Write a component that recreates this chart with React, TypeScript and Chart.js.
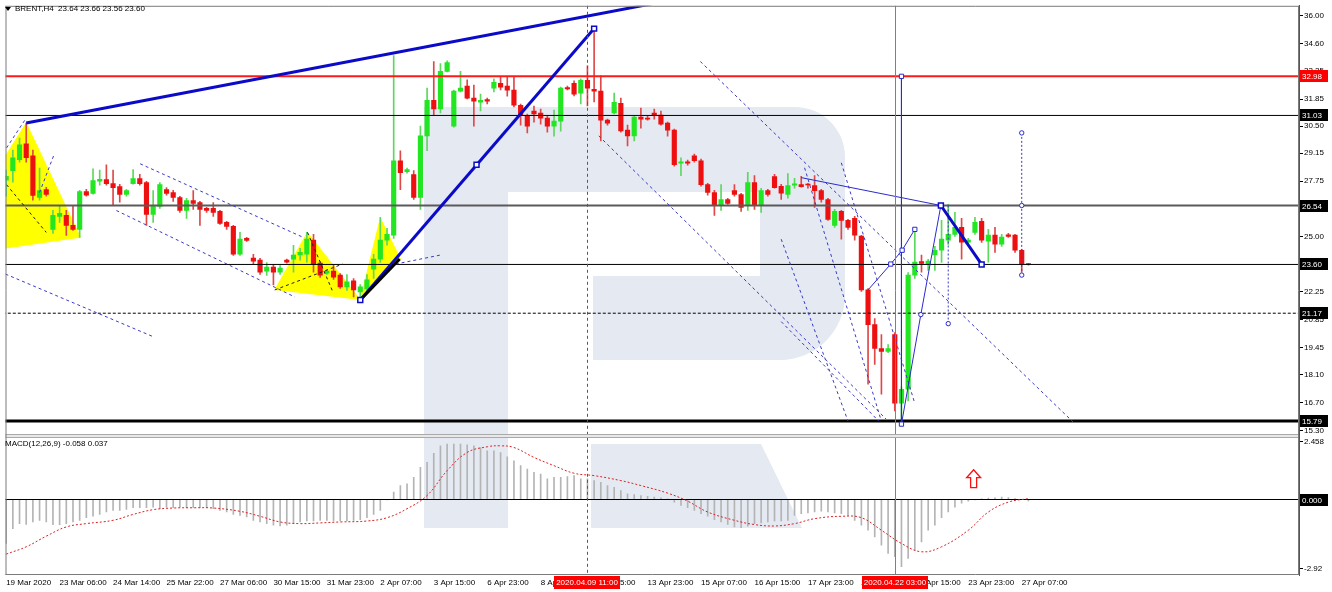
import React, { useEffect, useRef } from 'react';
import { Chart, registerables } from 'chart.js';

Chart.register(...registerables);

// ---------------- DATA ----------------
const barOpen = [
  27.80, 28.28, 28.82, 29.61, 29.02, 26.94, 27.33, 25.35, 26.00, 26.05,
  25.55, 25.35, 27.23, 27.14, 27.75, 27.83, 27.63, 27.48, 27.09, 27.63,
  27.88, 27.68, 26.09, 26.49, 27.33, 27.19, 26.94, 26.29, 26.79, 26.69,
  26.40, 26.40, 26.25, 25.70, 25.50, 24.11, 24.90, 23.92, 23.82, 23.27,
  23.47, 23.22, 23.82, 23.87, 24.07, 24.11, 24.81, 23.67, 23.17, 23.27,
  23.07, 22.48, 22.78, 22.23, 22.38, 23.37, 23.87, 24.81, 25.06, 28.77,
  28.23, 28.08, 26.94, 30.01, 31.79, 31.35, 33.23, 30.50, 32.24, 32.49,
  31.89, 31.69, 31.82, 32.39, 32.63, 32.49, 32.29, 31.54, 31.00, 31.25,
  31.15, 30.90, 30.50, 30.75, 32.42, 32.63, 32.14, 32.78, 32.33, 32.24,
  30.80, 31.15, 31.64, 30.30, 30.01, 30.95, 30.90, 31.15, 31.05, 30.65,
  30.30, 28.65, 28.72, 29.02, 28.77, 27.58, 27.19, 26.54, 26.84, 27.28,
  27.09, 26.54, 27.68, 26.54, 27.28, 27.98, 27.50, 27.09, 27.55, 27.58,
  27.58, 27.53, 27.28, 26.84, 25.55, 26.25, 25.80, 25.90, 25.01, 22.33,
  20.60, 19.41, 19.26, 20.10, 16.69, 17.38, 23.07, 23.75, 23.62, 24.07,
  24.31, 24.81, 25.10, 25.45, 24.71, 25.20, 25.75, 24.76, 25.06, 24.61,
  25.08, 25.06, 24.31, 23.64
];
const barHigh = [
  28.30, 29.30, 29.90, 30.65, 29.30, 28.40, 27.45, 26.30, 26.50, 26.30,
  26.54, 27.30, 27.35, 28.37, 28.30, 28.57, 28.30, 27.60, 27.35, 28.33,
  28.10, 27.75, 27.28, 27.68, 27.43, 27.30, 27.00, 26.90, 27.28, 26.75,
  26.45, 26.69, 26.30, 25.75, 25.55, 25.20, 24.95, 24.11, 23.90, 23.70,
  23.57, 23.55, 23.87, 24.56, 24.40, 25.20, 25.10, 23.75, 23.35, 23.57,
  23.15, 23.10, 22.90, 22.60, 23.10, 24.10, 25.95, 25.40, 34.02, 29.27,
  28.40, 28.28, 30.50, 32.39, 33.72, 33.62, 33.75, 32.30, 33.23, 32.80,
  32.54, 32.10, 31.90, 32.85, 32.98, 32.98, 32.98, 31.60, 31.10, 31.50,
  31.35, 31.00, 31.30, 32.45, 32.50, 32.75, 32.85, 33.50, 35.36, 33.00,
  30.85, 32.14, 31.90, 30.55, 31.00, 31.40, 31.00, 31.35, 31.25, 30.70,
  30.35, 28.92, 28.80, 29.10, 28.85, 27.65, 27.30, 27.58, 26.90, 27.58,
  27.15, 28.20, 28.03, 27.40, 27.35, 28.10, 27.60, 28.13, 27.90, 28.00,
  27.65, 28.03, 27.35, 26.90, 26.35, 26.30, 25.85, 26.00, 25.05, 22.40,
  20.90, 20.10, 19.60, 20.20, 17.50, 23.20, 25.35, 24.07, 23.85, 24.50,
  25.80, 26.60, 26.20, 25.90, 24.90, 25.95, 25.90, 25.35, 25.45, 25.10,
  25.15, 25.10, 24.35, 23.66
];
const barLow = [
  27.00, 27.70, 28.70, 28.70, 26.80, 26.80, 27.00, 25.15, 25.70, 25.05,
  25.30, 24.95, 27.00, 27.10, 27.55, 27.55, 26.54, 26.70, 27.00, 27.60,
  27.55, 25.55, 25.70, 26.40, 27.05, 26.74, 26.20, 25.90, 26.35, 25.55,
  26.20, 25.99, 25.60, 25.35, 24.05, 24.05, 24.75, 23.62, 23.10, 23.05,
  22.58, 23.10, 23.67, 23.22, 23.82, 23.72, 23.22, 22.95, 23.10, 22.85,
  22.40, 22.30, 21.98, 21.83, 22.30, 22.90, 23.70, 24.56, 24.90, 27.33,
  28.15, 26.84, 26.35, 29.27, 31.05, 31.15, 33.20, 30.45, 32.20, 31.85,
  30.50, 31.25, 31.60, 32.20, 32.30, 31.99, 31.45, 30.55, 30.16, 30.70,
  30.60, 30.20, 30.00, 30.25, 32.30, 32.00, 31.60, 31.50, 31.70, 29.76,
  30.55, 31.10, 30.20, 29.51, 29.76, 30.40, 30.80, 30.85, 30.55, 30.00,
  28.50, 28.03, 28.55, 28.70, 27.50, 27.05, 26.05, 26.29, 26.60, 27.00,
  26.25, 26.30, 26.35, 26.20, 27.00, 27.40, 26.84, 26.90, 27.40, 27.45,
  27.40, 26.44, 26.70, 25.80, 25.45, 24.86, 25.35, 24.81, 22.25, 17.63,
  18.62, 17.13, 19.20, 16.30, 15.79, 16.80, 22.90, 23.22, 23.30, 23.30,
  23.70, 24.60, 25.00, 23.87, 24.65, 25.10, 24.70, 23.72, 24.20, 24.50,
  24.95, 24.20, 23.22, 23.56
];
const barClose = [
  28.00, 28.92, 29.56, 28.92, 27.04, 27.28, 27.09, 26.05, 26.15, 25.55,
  25.35, 27.23, 27.05, 27.78, 27.85, 27.63, 27.43, 27.09, 27.28, 27.88,
  27.63, 26.09, 26.54, 27.58, 27.14, 26.94, 26.29, 26.79, 26.64, 26.35,
  26.29, 26.20, 25.65, 25.50, 24.11, 24.86, 24.80, 23.77, 23.22, 23.47,
  23.22, 23.42, 23.72, 24.07, 24.21, 24.86, 23.62, 23.07, 23.27, 22.97,
  22.48, 22.73, 22.33, 22.48, 22.83, 23.87, 24.81, 25.10, 28.77, 28.18,
  28.33, 26.94, 30.01, 31.79, 31.35, 33.23, 33.67, 32.24, 32.39, 31.89,
  31.74, 31.79, 31.74, 32.68, 32.44, 32.29, 31.54, 31.05, 30.50, 31.10,
  30.90, 30.50, 30.75, 32.39, 32.35, 32.09, 32.78, 32.39, 32.24, 30.80,
  30.65, 31.69, 30.26, 30.01, 30.95, 30.85, 30.85, 31.05, 30.60, 30.30,
  28.57, 28.72, 28.65, 28.77, 27.58, 27.19, 26.54, 26.84, 26.64, 27.09,
  26.44, 27.68, 26.54, 27.28, 27.09, 27.43, 27.15, 27.53, 27.62, 27.48,
  27.56, 27.28, 26.84, 25.85, 26.25, 25.80, 25.45, 25.06, 22.33, 20.60,
  19.41, 19.26, 19.41, 16.69, 17.38, 23.07, 23.72, 23.65, 23.77, 24.31,
  24.86, 25.10, 25.45, 24.71, 24.81, 25.70, 24.81, 25.06, 24.61, 24.96,
  25.00, 24.31, 23.62, 23.60
];
const macdHist = [
  -1.86, -1.23, -1.02, -1.05, -0.95, -0.88, -0.95, -1.06, -1.06, -1.02,
  -0.95, -0.88, -0.77, -0.70, -0.63, -0.53, -0.46, -0.46, -0.42, -0.35,
  -0.35, -0.35, -0.32, -0.39, -0.32, -0.35, -0.32, -0.35, -0.35, -0.35,
  -0.35, -0.39, -0.46, -0.53, -0.63, -0.67, -0.74, -0.88, -0.95, -1.02,
  -1.09, -1.12, -1.09, -0.99, -0.95, -0.91, -0.91, -0.88, -0.88, -0.91,
  -0.91, -0.91, -0.88, -0.85, -0.77, -0.63, -0.46, -0.02, 0.31, 0.59,
  0.66, 0.94, 1.36, 1.57, 1.95, 2.27, 2.34, 2.34, 2.34, 2.31,
  2.27, 2.20, 2.06, 2.06, 1.99, 1.81, 1.64, 1.43, 1.29, 1.15,
  1.08, 0.87, 0.94, 0.94, 0.97, 1.01, 0.87, 0.87, 0.80, 0.73,
  0.59, 0.52, 0.38, 0.24, 0.21, 0.17, 0.13, 0.10, 0.07, 0.03,
  -0.11, -0.25, -0.35, -0.46, -0.60, -0.71, -0.85, -0.95, -1.05, -1.16,
  -1.19, -1.13, -1.02, -0.99, -0.95, -0.91, -0.91, -0.88, -0.67, -0.60,
  -0.57, -0.53, -0.49, -0.53, -0.57, -0.60, -0.67, -0.88, -1.09, -1.30,
  -1.58, -1.93, -2.28, -2.42, -2.84, -2.49, -2.14, -1.79, -1.30, -1.09,
  -0.77, -0.53, -0.32, -0.15, -0.07, -0.01, 0.03, 0.06, 0.07, 0.10,
  0.08, 0.04, 0.00, -0.058
];
const signalIdx = [0, 3, 6, 9, 12, 16, 19, 22, 25, 28, 31, 35, 38, 41, 44, 47, 50, 54, 57, 60,
  63, 66, 69, 72, 74, 76, 79, 82, 85, 88, 92, 95, 99, 102, 105, 109, 112, 115, 118, 121,
  125, 128, 131, 134, 137, 140, 144, 147, 150, 153];
const signalVal = [-2.31, -2.00, -1.55, -1.16, -1.02, -0.88, -0.63, -0.43, -0.36, -0.35, -0.36, -0.50, -0.71, -0.95, -1.02, -0.99, -0.95, -0.91, -0.77, -0.39,
  0.17, 1.22, 1.99, 2.23, 2.27, 2.20, 1.78, 1.43, 1.11, 1.01, 0.80, 0.59, 0.27, -0.07, -0.53, -0.88, -1.06, -1.12, -1.02, -0.81,
  -0.71, -0.77, -1.30, -1.86, -2.21, -2.00, -1.30, -0.53, -0.11, 0.037];

const timeTickIdx = [0, 8, 16, 24, 32, 40, 48, 56, 64, 72, 80, 88, 96, 104, 112, 120, 128, 136, 144, 152];
const timeTickLabels = ['19 Mar 2020', '23 Mar 06:00', '24 Mar 14:00', '25 Mar 22:00', '27 Mar 06:00', '30 Mar 15:00',
  '31 Mar 23:00', '2 Apr 07:00', '3 Apr 15:00', '6 Apr 23:00', '8 Apr 07:00', '9 Apr 15:00', '13 Apr 23:00',
  '15 Apr 07:00', '16 Apr 15:00', '17 Apr 23:00', '21 Apr 07:00', '22 Apr 15:00', '23 Apr 23:00', '27 Apr 07:00'];
const priceTicks = [36.00, 34.60, 33.25, 31.85, 30.50, 29.15, 27.75, 26.40, 25.00, 23.60, 22.25, 20.85, 19.45, 18.10, 16.70, 15.30];
const macdTicks = [2.458, 0, -2.92];
const macdTickLabels = ['2.458', '0.000', '-2.92'];

const levelValues = [32.98, 31.03, 26.54, 23.60, 21.17, 15.79];
const markedTimeIdx = [87, 133];
const markedTimeLabels = ['2020.04.09 11:00', '2020.04.22 03:00'];
const arrowPoint = [144.8, 0.88];

const trendThick = [
  [[3, 30.65], [100, 36.81]],
  [[53, 21.83], [88, 35.36]],
  [[139.9, 26.54], [146, 23.60]],
];
const trendBlack = [[53, 21.83], [58.9, 23.87]];
const trendThin = [
  [[119, 27.93], [139.9, 26.54]],
  [[129, 22.33], [132.4, 23.62], [134.1, 24.31], [136, 25.35]],
  [[134, 15.64], [136.9, 21.1], [139.9, 26.54]],
  [[134, 32.98], [134, 15.64]],
];
const dashedBlue = [
  [[-0.1, 23.12], [22.0, 20.0]],
  [[20.05, 28.62], [44.4, 24.96]],
  [[16.5, 26.29], [43.2, 21.98]],
  [[0.05, 29.41], [3.0, 30.9]],
  [[5.0, 27.19], [7.1, 29.02]],
  [[58.3, 23.62], [65.0, 24.07]],
  [[88.7, 30.01], [131.7, 15.89]],
  [[103.9, 33.72], [159.7, 15.74]],
  [[119.5, 28.42], [130.9, 15.89]],
  [[125.0, 28.67], [135.9, 16.78]],
  [[116.0, 20.75], [130.6, 15.79]],
  [[116.0, 24.86], [126.0, 15.79]],
];
const dottedVertical = [
  [[141, 26.54], [141, 20.65]],
  [[152, 30.16], [152, 23.07]],
];
const dashedBlack = [
  [[0.05, 27.58], [6.0, 25.2]],
  [[40.2, 22.33], [50.35, 23.62]],
  [[45.1, 25.2], [48.9, 22.23]],
];
const yellowShapes = [
  [[-0.5, 28.8], [3.0, 30.65], [11.1, 24.96], [-0.5, 24.4]],
  [[40.2, 22.33], [45.1, 25.2], [53.0, 21.83]],
  [[53.0, 21.83], [56.0, 25.9], [59.0, 23.87]],
];
const bigSquares = [[53, 21.83], [70.4, 28.57], [88, 35.36], [139.9, 26.54], [146, 23.60]];
const smallSquares = [[132.4, 23.62], [134.1, 24.31], [136, 25.35], [134, 32.98], [134, 15.64]];
const smallCircles = [[136.9, 21.1], [141, 20.65], [152, 30.16], [152, 26.54], [152, 23.07]];

// ---------------- STYLE ----------------
const FONT_FAMILY = '"Liberation Sans", Arial, sans-serif';
const FONT = '8px ' + FONT_FAMILY;
const UP = '#22e622';
const DOWN = '#ee1010';
const UP_WICK = '#5cd85c';
const DOWN_WICK = '#e04848';
const BLUE = '#0a0ac8';
const levelStyles = [
  { color: '#ff1a1a', width: 2, dash: [], box: '#ff0000' },
  { color: '#000000', width: 1, dash: [], box: '#000000' },
  { color: '#5a5a5a', width: 2, dash: [], box: '#000000' },
  { color: '#000000', width: 1, dash: [], box: '#000000' },
  { color: '#000000', width: 1, dash: [3, 2], box: '#000000' },
  { color: '#000000', width: 3, dash: [], box: '#000000' },
];

const isUp = (i: number) => barClose[i] >= barOpen[i];
const toXY = (pts: number[][]) => pts.map((p) => ({ x: p[0], y: p[1] }));

function lineDs(pts: number[][], color: string, width: number, dash: number[], order: number, axis = 'y', extra: any = {}) {
  return {
    type: 'line',
    yAxisID: axis,
    data: toXY(pts),
    borderColor: color,
    borderWidth: width,
    borderDash: dash,
    pointRadius: 0,
    fill: false,
    tension: 0,
    order,
    ...extra,
  };
}

function drawWatermark(ctx: CanvasRenderingContext2D) {
  ctx.save();
  const c = '#e4e9f2';
  ctx.fillStyle = c;
  ctx.beginPath();
  ctx.moveTo(424, 107);
  ctx.lineTo(795, 107);
  ctx.arcTo(845, 107, 845, 157, 50);
  ctx.lineTo(845, 295);
  ctx.arcTo(845, 360, 780, 360, 65);
  ctx.lineTo(424, 360);
  ctx.closePath();
  ctx.fill();
  ctx.fillStyle = '#ffffff';
  ctx.fillRect(508, 192, 252, 84);
  ctx.fillRect(508, 276, 85, 84);
  ctx.fillStyle = c;
  ctx.fillRect(424, 107, 84, 421);
  ctx.beginPath();
  ctx.moveTo(591, 444);
  ctx.lineTo(761, 444);
  ctx.lineTo(802, 528);
  ctx.lineTo(591, 528);
  ctx.closePath();
  ctx.fill();
  ctx.restore();
}

const decorPlugin = {
  id: 'mt4Decor',
  beforeDatasetsDraw(chart: any) {
    drawWatermark(chart.ctx);
  },
  afterDatasetsDraw(chart: any) {
    const { ctx, chartArea, scales } = chart;
    const x = scales.x;
    ctx.save();
    ctx.lineWidth = 1;
    const xa = Math.round(x.getPixelForValue(markedTimeIdx[0])) + 0.5;
    ctx.strokeStyle = '#d82020';
    ctx.setLineDash([3, 3]);
    ctx.beginPath();
    ctx.moveTo(xa, chartArea.top);
    ctx.lineTo(xa, chartArea.bottom);
    ctx.stroke();
    ctx.setLineDash([]);
    const xb = Math.round(x.getPixelForValue(markedTimeIdx[1])) + 0.5;
    ctx.strokeStyle = '#f05050';
    ctx.beginPath();
    ctx.moveTo(xb, chartArea.top);
    ctx.lineTo(xb, chartArea.bottom);
    ctx.stroke();

    // arrow in MACD
    const ax = x.getPixelForValue(arrowPoint[0]);
    const ay = scales.y2.getPixelForValue(arrowPoint[1]);
    const top = ay - 9;
    const bot = ay + 9;
    ctx.beginPath();
    ctx.moveTo(ax, top);
    ctx.lineTo(ax + 7, top + 8);
    ctx.lineTo(ax + 3, top + 8);
    ctx.lineTo(ax + 3, bot);
    ctx.lineTo(ax - 3, bot);
    ctx.lineTo(ax - 3, top + 8);
    ctx.lineTo(ax - 7, top + 8);
    ctx.closePath();
    ctx.fillStyle = '#ffffff';
    ctx.fill();
    ctx.strokeStyle = '#ff1010';
    ctx.lineWidth = 1.3;
    ctx.stroke();
    ctx.restore();
  },
  afterDraw(chart: any) {
    const { ctx, chartArea, scales } = chart;
    const { left, right, top, bottom } = chartArea;
    const y = scales.y;
    const y2 = scales.y2;
    const x = scales.x;
    ctx.save();
    // frames
    const sepTop = Math.round(y.bottom) - 2;
    ctx.fillStyle = '#a9a9a9';
    ctx.fillRect(left, sepTop, right - left, 4);
    ctx.fillStyle = '#e8e8e8';
    ctx.fillRect(left, sepTop + 1, right - left, 2);
    ctx.strokeStyle = '#7a7a7a';
    ctx.lineWidth = 1;
    ctx.beginPath();
    ctx.moveTo(left + 0.5, top);
    ctx.lineTo(left + 0.5, bottom);
    ctx.moveTo(left, top + 0.5);
    ctx.lineTo(right, top + 0.5);
    ctx.moveTo(left, bottom - 0.5);
    ctx.lineTo(right, bottom - 0.5);
    ctx.moveTo(right - 0.5, top);
    ctx.lineTo(right - 0.5, bottom);
    ctx.stroke();

    ctx.font = FONT;
    ctx.textBaseline = 'middle';
    // level boxes on price axis
    levelValues.forEach((v, i) => {
      const py = Math.round(y.getPixelForValue(v));
      ctx.fillStyle = levelStyles[i].box;
      ctx.fillRect(right + 1, py - 6, 28, 12);
      ctx.fillStyle = '#ffffff';
      ctx.textAlign = 'left';
      ctx.fillText(v.toFixed(2), right + 3, py + 0.5);
    });
    // zero box on MACD axis
    const zy = Math.round(y2.getPixelForValue(0));
    ctx.fillStyle = '#000000';
    ctx.fillRect(right + 1, zy - 6, 28, 12);
    ctx.fillStyle = '#ffffff';
    ctx.fillText('0.000', right + 3, zy + 0.5);

    // time boxes
    markedTimeIdx.forEach((idx, i) => {
      const px = Math.round(x.getPixelForValue(idx));
      ctx.fillStyle = '#ff0000';
      ctx.fillRect(px - 33, bottom + 1, 66, 13);
      ctx.fillStyle = '#ffffff';
      ctx.textAlign = 'center';
      ctx.fillText(markedTimeLabels[i], px, bottom + 8);
    });

    // header
    ctx.fillStyle = '#000000';
    ctx.beginPath();
    ctx.moveTo(5, 7);
    ctx.lineTo(11, 7);
    ctx.lineTo(8, 11);
    ctx.closePath();
    ctx.fill();
    ctx.textAlign = 'left';
    ctx.fillText('BRENT,H4  23.64 23.66 23.56 23.60', 15, 9);
    ctx.fillText('MACD(12,26,9) -0.058 0.037', 5, Math.round(y2.top) + 8);
    ctx.restore();
  },
};

export default function App() {
  const ref = useRef<HTMLCanvasElement | null>(null);

  useEffect(() => {
    document.body.style.margin = '0';
    const idx = barOpen.map((_, i) => i);
    const wickData = idx.map((i) => ({ x: i, y: [barLow[i], barHigh[i]] }));
    const bodyData = idx.map((i) => ({ x: i, y: [barOpen[i], barClose[i]] }));
    const histData = macdHist.map((v, i) => ({ x: i, y: v }));
    const sigData = signalIdx.map((k, i) => ({ x: k, y: signalVal[i] }));

    const datasets: any[] = [];
    yellowShapes.forEach((s) =>
      datasets.push(lineDs(s, '#ffff00', 1, [], 100, 'y', { fill: 'shape', backgroundColor: '#ffff00' }))
    );
    datasets.push({
      type: 'bar', yAxisID: 'y', data: wickData, grouped: false, order: 60,
      barPercentage: 1, categoryPercentage: 1, maxBarThickness: 1,
      backgroundColor: (c: any) => (isUp(c.dataIndex) ? UP_WICK : DOWN_WICK),
    });
    datasets.push({
      type: 'bar', yAxisID: 'y', data: bodyData, grouped: false, order: 55, minBarLength: 1,
      barPercentage: 1, categoryPercentage: 1, maxBarThickness: 4.5,
      backgroundColor: (c: any) => (isUp(c.dataIndex) ? UP : DOWN),
    });
    levelValues.forEach((v, i) => {
      const st = levelStyles[i];
      datasets.push(lineDs([[-2, v], [200, v]], st.color, st.width, st.dash, 45));
    });
    dashedBlue.forEach((s) => datasets.push(lineDs(s, '#3a3ac4', 1, [3, 3], 40)));
    dashedBlack.forEach((s) => datasets.push(lineDs(s, '#202020', 1, [3, 3], 40)));
    dottedVertical.forEach((s) => datasets.push(lineDs(s, '#3a3ac4', 1, [2, 2], 40)));
    trendThin.forEach((s) => datasets.push(lineDs(s, '#2a2ad0', 1, [], 35)));
    trendThick.forEach((s) => datasets.push(lineDs(s, BLUE, 3, [], 30)));
    datasets.push(lineDs(trendBlack, '#000000', 3, [], 29));
    datasets.push(lineDs(bigSquares, BLUE, 0, [], 20, 'y', {
      showLine: false, pointRadius: 3.5, pointStyle: 'rect', pointBorderWidth: 1.5,
      pointBorderColor: BLUE, pointBackgroundColor: '#ffffff',
    }));
    datasets.push(lineDs(smallSquares, '#2a2ad0', 0, [], 20, 'y', {
      showLine: false, pointRadius: 3, pointStyle: 'rect', pointBorderWidth: 1,
      pointBorderColor: '#2a2ad0', pointBackgroundColor: '#ffffff',
    }));
    datasets.push(lineDs(smallCircles, '#2a2ad0', 0, [], 20, 'y', {
      showLine: false, pointRadius: 2.2, pointStyle: 'circle', pointBorderWidth: 1,
      pointBorderColor: '#2a2ad0', pointBackgroundColor: '#ffffff',
    }));
    // MACD panel
    datasets.push({
      type: 'bar', yAxisID: 'y2', data: histData, grouped: false, order: 60,
      barPercentage: 1, categoryPercentage: 1, maxBarThickness: 1, backgroundColor: '#b4b4b4',
    });
    datasets.push(lineDs([[-2, 0], [200, 0]], '#000000', 1, [], 50, 'y2'));
    datasets.push({
      type: 'line', yAxisID: 'y2', data: sigData, borderColor: '#dd2222', borderWidth: 1,
      borderDash: [2, 2], pointRadius: 0, tension: 0.4, fill: false, order: 45,
    });

    const tickFont = { family: FONT_FAMILY, size: 8 };
    const chart = new Chart(ref.current as HTMLCanvasElement, {
      type: 'bar',
      data: { datasets },
      options: {
        animation: false,
        responsive: false,
        maintainAspectRatio: false,
        devicePixelRatio: 1,
        events: [],
        layout: { padding: { left: 2, top: 2, right: 0, bottom: 0 } },
        plugins: { legend: { display: false }, tooltip: { enabled: false } },
        scales: {
          x: {
            type: 'linear', min: -0.1, max: 193.5, offset: false,
            grid: { display: false, drawTicks: false, offset: false },
            border: { display: false },
            afterBuildTicks: (a: any) => { a.ticks = timeTickIdx.map((v) => ({ value: v })); },
            afterFit: (s: any) => { s.height = 17; },
            ticks: {
              autoSkip: false, maxRotation: 0, minRotation: 0, align: 'start', padding: 3,
              font: tickFont, color: '#000',
              callback: (_v: any, i: number) => timeTickLabels[i],
            },
          },
          y: {
            type: 'linear', position: 'right', stack: 'panes', stackWeight: 433, weight: 0,
            min: 15.051, max: 36.497,
            grid: { drawOnChartArea: false, drawTicks: true, tickLength: 4, color: '#000' },
            border: { display: true, color: '#555' },
            afterBuildTicks: (a: any) => { a.ticks = priceTicks.map((v) => ({ value: v })); },
            afterFit: (s: any) => { s.width = 33; },
            ticks: { autoSkip: false, padding: 1, font: tickFont, color: '#000', callback: (v: any) => Number(v).toFixed(2) },
          },
          y2: {
            type: 'linear', position: 'right', stack: 'panes', stackWeight: 140, weight: 1,
            min: -3.193, max: 2.689,
            grid: { drawOnChartArea: false, drawTicks: true, tickLength: 4, color: '#000' },
            border: { display: true, color: '#555' },
            afterBuildTicks: (a: any) => { a.ticks = macdTicks.map((v) => ({ value: v })); },
            afterFit: (s: any) => { s.width = 33; },
            ticks: { autoSkip: false, padding: 1, font: tickFont, color: '#000', callback: (_v: any, i: number) => macdTickLabels[i] },
          },
        },
      } as any,
      plugins: [decorPlugin as any],
    } as any);
    return () => chart.destroy();
  }, []);

  return (
    <div style={{ position: 'absolute', left: 0, top: 0, width: 1332, height: 592, background: '#ffffff' }}>
      <canvas ref={ref} width={1332} height={592} style={{ display: 'block', width: 1332, height: 592 }} />
    </div>
  );
}
